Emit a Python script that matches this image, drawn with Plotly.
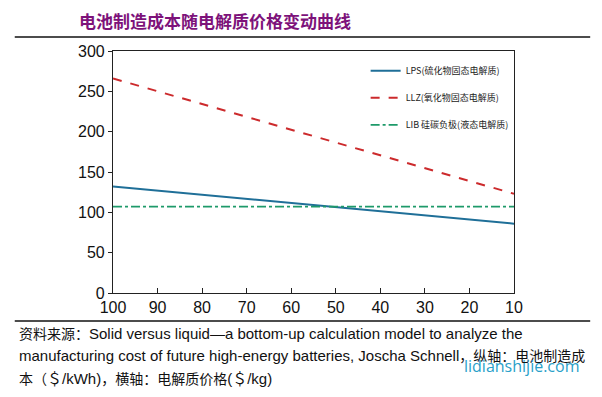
import plotly.graph_objects as go

x_price = [100, 10]
lps = [132, 86]
llz = [266, 123]
lib = [107, 107]
x_ticks = [100, 90, 80, 70, 60, 50, 40, 30, 20, 10]
y_ticks = [0, 50, 100, 150, 200, 250, 300]
names = ["LPS(硫化物固态电解质)", "LLZ(氧化物固态电解质)", "LIB 硅碳负极(液态电解质)"]

fig = go.Figure()
fig.add_trace(go.Scatter(x=x_price, y=lps, mode="lines", name=names[0], legendgroup="a",
                         line=dict(color="#1f6f98", width=2)))
fig.add_trace(go.Scatter(x=x_price, y=llz, mode="lines", name=names[1], legendgroup="b",
                         line=dict(color="#cc2a2c", width=2, dash="dash")))
fig.add_trace(go.Scatter(x=x_price, y=lib, mode="lines", name=names[2], legendgroup="c",
                         line=dict(color="#1e9a6a", width=1.8, dash="dashdot")))

# page body has an 8px margin, so the figure is drawn 8px smaller and shifted
ax_font = dict(family="Liberation Sans, Arial", size=16, color="#111")
fig.update_layout(
    width=594, height=389,
    margin=dict(l=105, r=88, t=43, b=104),
    paper_bgcolor="white", plot_bgcolor="white",
    showlegend=True,
    legend=dict(x=0.63, y=0.978, xanchor="left", yanchor="top",
                bgcolor="rgba(255,255,255,0)", borderwidth=0,
                font=dict(family="Noto Sans CJK SC, Liberation Serif", size=9, color="#222"),
                tracegroupgap=8, traceorder="grouped", itemwidth=30),
    xaxis=dict(range=[100, 10], tickvals=x_ticks, ticktext=[str(v) for v in x_ticks],
               showgrid=False, zeroline=False, showline=True, linecolor="#222", linewidth=1.2,
               mirror=True, ticks="inside", ticklen=5, tickcolor="#222", tickfont=ax_font),
    yaxis=dict(range=[0, 300], tickvals=y_ticks, showgrid=False, zeroline=False,
               showline=True, linecolor="#222", linewidth=1.2, mirror=True,
               ticks="outside", ticklen=4, tickcolor="#222", tickfont=ax_font),
)

# header line and caption line
fig.add_shape(type="line", xref="paper", yref="paper", x0=-0.245, x1=1.19, y0=1.058, y1=1.058,
              line=dict(color="#111", width=1.5))
fig.add_shape(type="line", xref="paper", yref="paper", x0=-0.245, x1=1.19, y0=-0.116, y1=-0.116,
              line=dict(color="#111", width=1.5))

fig.add_annotation(text="<b>电池制造成本随电解质价格变动曲线</b>", xref="paper", yref="paper",
                   x=(77 - 113) / 401, y=(293 - 20) / 242, xanchor="left", yanchor="middle",
                   showarrow=False,
                   font=dict(family="Noto Sans CJK SC", size=17, color="#7d127a"))

cap_font = dict(family="Liberation Sans, Arial, Noto Sans CJK SC", size=15, color="#111")
def zh(s):
    return '<span style="font-size:14px">' + s + '</span>'
caps = [
    zh("资料来源：") + "Solid versus liquid—a bottom-up calculation model to analyze the",
    "manufacturing cost of future high-energy batteries, Joscha Schnell" + zh("，纵轴：电池制造成"),
    zh("本（") + "＄/kWh)" + zh("，横轴：电解质价格") + "(＄/kg)",
]
ys = [333, 355, 378]
for t, py in zip(caps, ys):
    fig.add_annotation(text=t, xref="paper", yref="paper", x=(17 - 113) / 401,
                       y=(293 - py) / 242, xanchor="left", yanchor="middle",
                       showarrow=False, font=cap_font)

fig.add_annotation(text="lidianshijie.com", xref="paper", yref="paper", x=(521 - 113) / 401,
                   y=(293 - 366) / 242, xanchor="center", yanchor="middle", showarrow=False,
                   font=dict(family="Open Sans, DejaVu Sans", size=16, color="#2a9fc9"))

fig.write_html("out.html")
